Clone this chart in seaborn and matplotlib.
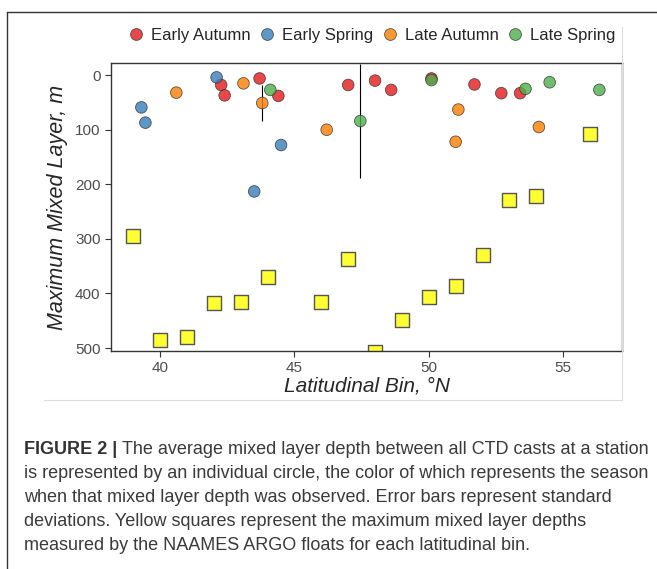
import pandas as pd
import matplotlib.pyplot as plt
import seaborn as sns
from matplotlib.lines import Line2D

# station means from CTD casts
early_autumn_lat = [42.27, 42.4, 43.7, 44.4, 47.0, 48.0, 48.6, 50.1, 51.7, 52.7, 53.4]
early_autumn_mld = [18, 37, 6, 38, 18, 10, 27, 6, 17, 33, 33]
early_spring_lat = [39.3, 39.45, 42.1, 44.5, 43.5]
early_spring_mld = [59, 87, 4, 128, 213]
late_autumn_lat = [40.6, 43.1, 43.8, 46.2, 51.1, 51.0, 54.1]
late_autumn_mld = [32, 15, 51, 100, 63, 122, 95]
late_autumn_sd = [0, 0, 33, 0, 0, 0, 0]
late_spring_lat = [44.1, 47.45, 50.1, 53.6, 54.5, 56.35]
late_spring_mld = [27, 84, 9, 25, 13, 27]
late_spring_sd = [0, 105, 0, 0, 0, 0]

# ARGO float maxima per bin
argo_lat = [39, 40, 41, 42, 43, 44, 46, 47, 48, 49, 50, 51, 52, 53, 54, 56]
argo_mld = [295, 486, 479, 418, 416, 369, 416, 336, 508, 449, 407, 387, 330, 229, 222, 108]

seasons = ['Early Autumn', 'Early Spring', 'Late Autumn', 'Late Spring']
colors = ['#E41A1C', '#377EB8', '#FF7F00', '#4DAF4A']

df = pd.concat([
    pd.DataFrame({'lat': early_autumn_lat, 'mld': early_autumn_mld, 'sd': 0, 'season': 'Early Autumn'}),
    pd.DataFrame({'lat': early_spring_lat, 'mld': early_spring_mld, 'sd': 0, 'season': 'Early Spring'}),
    pd.DataFrame({'lat': late_autumn_lat, 'mld': late_autumn_mld, 'sd': late_autumn_sd, 'season': 'Late Autumn'}),
    pd.DataFrame({'lat': late_spring_lat, 'mld': late_spring_mld, 'sd': late_spring_sd, 'season': 'Late Spring'}),
])
argo = pd.DataFrame({'lat': argo_lat, 'mld': argo_mld})

sns.set_style("white")
plt.rcParams['font.family'] = ['Liberation Sans', 'DejaVu Sans']

fig = plt.figure(figsize=(6.57, 5.69), dpi=100)
ax = fig.add_axes([0.169, 0.383, 0.778, 0.506])

err = df[df.sd > 0]
ax.errorbar(err.lat, err.mld, yerr=err.sd, fmt='none', ecolor='black', elinewidth=0.8, zorder=1)

sns.scatterplot(data=argo, x='lat', y='mld', marker='s', s=100, color='#FFFF33',
                edgecolor='#555555', linewidth=1, ax=ax, zorder=2)
sns.scatterplot(data=df, x='lat', y='mld', hue='season', hue_order=seasons, palette=colors,
                s=70, alpha=0.8, edgecolor='#333333', linewidth=0.6, ax=ax, legend=False, zorder=3)

ax.set_xlim(38.17, 57.2)
ax.set_ylim(505.5, -22)
ax.set_xticks([40, 45, 50, 55])
ax.set_yticks([0, 100, 200, 300, 400, 500])
ax.tick_params(axis='both', direction='out', length=4, width=0.8, color='#333333',
               labelsize=11, labelcolor='#4d4d4d', left=True, bottom=True)
for sp in ax.spines.values():
    sp.set_color('#333333')
    sp.set_linewidth(1)
ax.set_xlabel('Latitudinal Bin, °N', fontsize=15, style='italic', labelpad=1)
ax.set_ylabel('Maximum Mixed Layer, m', fontsize=15.5, style='italic', labelpad=5)

handles = [Line2D([], [], marker='o', linestyle='none', markersize=8.5, markerfacecolor=c,
                  markeredgecolor='#333333', markeredgewidth=0.6, alpha=0.8) for c in colors]
fig.legend(handles, seasons, loc='center', bbox_to_anchor=(0.564, 0.938), ncol=4, frameon=False,
           fontsize=12, handletextpad=0.3, columnspacing=0.4, handlelength=1.2)

# outer figure frame and panel edges
fig.add_artist(Line2D([7/657, 7/657], [0, 1-12/569], color='#333333', lw=1))
fig.add_artist(Line2D([7/657, 1], [1-12/569, 1-12/569], color='#333333', lw=1))
fig.add_artist(Line2D([44/657, 622/657], [1-400/569, 1-400/569], color='#dddddd', lw=0.8))
fig.add_artist(Line2D([622/657, 622/657], [1-400/569, 1-27/569], color='#dddddd', lw=0.8))

caption = [
    "The average mixed layer depth between all CTD casts at a station",
    "is represented by an individual circle, the color of which represents the season",
    "when that mixed layer depth was observed. Error bars represent standard",
    "deviations. Yellow squares represent the maximum mixed layer depths",
    "measured by the NAAMES ARGO floats for each latitudinal bin.",
]
y0 = 449
for i, line in enumerate(caption):
    y = 1 - (y0 + i * 24) / 569
    if i == 0:
        t = fig.text(24/657, y, "FIGURE 2 | ", fontsize=13, weight='bold', color='#333333', va='center')
        fig.canvas.draw()
        bb = t.get_window_extent()
        fig.text(bb.x1 / fig.bbox.width, y, line, fontsize=13, color='#3a3a3a', va='center')
    else:
        fig.text(24/657, y, line, fontsize=13, color='#3a3a3a', va='center')

fig.savefig('out.png', dpi=100)
